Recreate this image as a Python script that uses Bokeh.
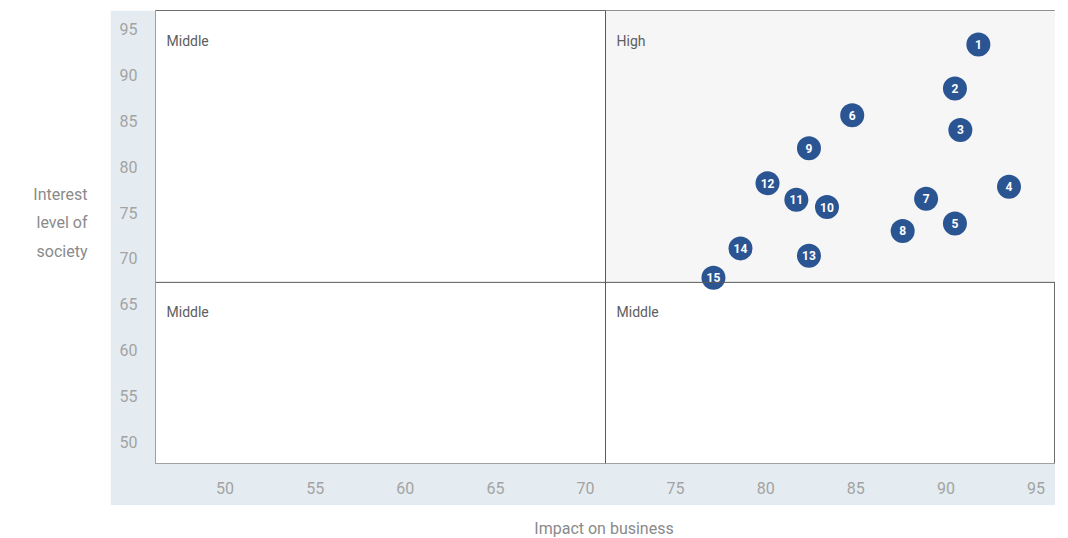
from bokeh.plotting import figure
from bokeh.layouts import row, column
from bokeh.models import Range1d, BoxAnnotation, Span, Label, ColumnDataSource, FixedTicker, Spacer
from bokeh.embed import file_html
from bokeh.resources import INLINE
from bokeh.core.properties import value

# Issue numbers and their scores
issue_ids = [str(i) for i in range(1, 16)]
impact_on_business = [91.8, 90.5, 90.8, 93.5, 90.5, 84.8, 88.9, 87.6, 82.4, 83.4, 81.7, 80.1, 82.4, 78.6, 77.1]
interest_of_society = [93.3, 88.5, 84.0, 77.8, 73.8, 85.6, 76.5, 73.0, 82.0, 75.6, 76.4, 78.2, 70.3, 71.1, 67.9]

x_ticks = [50, 55, 60, 65, 70, 75, 80, 85, 90, 95]
y_ticks = [50, 55, 60, 65, 70, 75, 80, 85, 90, 95]

# Quadrant split values and quadrant names (top-left, top-right, bottom-left, bottom-right)
x_split = 71.11
y_split = 67.4
quadrant_names = ["Middle", "High", "Middle", "Middle"]

x_title = "Impact on business"
y_title = "Interest\nlevel of\nsociety"

x_lo, x_hi = 46.14, 96.08
y_lo, y_hi = 47.68, 97.0

BLUE = "#2b5592"
BAND = "#e4ecf1"
FONT = "Roboto"
TITLE_COLOR = "#8a8a8a"

# ---- main quadrant chart; its border area forms the light band behind the ticks ----
p = figure(
    width=945, height=495,
    x_range=Range1d(x_lo, x_hi), y_range=Range1d(y_lo, y_hi),
    min_border_left=45, min_border_right=0, min_border_top=0, min_border_bottom=42,
    output_backend="svg", toolbar_location=None,
    background_fill_color="white", border_fill_color=BAND,
    outline_line_color="#6e6e6e", outline_line_width=1,
)
p.grid.visible = False

# Shaded "High" quadrant
p.add_layout(BoxAnnotation(left=x_split, bottom=y_split, fill_color="#f6f6f6",
                           fill_alpha=1, line_color=None, level="underlay"))

# Quadrant dividers
p.add_layout(Span(location=x_split, dimension="height", line_color="#5a5a5a", line_width=1))
p.add_layout(Span(location=y_split, dimension="width", line_color="#5a5a5a", line_width=1))

# Quadrant names
corners = [(x_lo, y_hi), (x_split, y_hi), (x_lo, y_split), (x_split, y_split)]
for name, (cx, cy) in zip(quadrant_names, corners):
    p.add_layout(Label(x=cx, y=cy, x_offset=11, y_offset=-30, text=name,
                       text_font=FONT, text_font_size="14px", text_color="#5e5e5e",
                       text_baseline="middle", text_align="left"))

src = ColumnDataSource(dict(x=impact_on_business, y=interest_of_society, label=issue_ids))
p.scatter("x", "y", source=src, size=24, fill_color=BLUE, line_color=None)
p.text("x", "y", text="label", source=src, text_color="white", text_align="center",
       text_baseline="middle", text_font=value(FONT), text_font_size="12px",
       text_font_style="bold")

for ax in (p.xaxis[0], p.yaxis[0]):
    ax.major_tick_line_color = None
    ax.minor_tick_line_color = None
    ax.axis_line_color = "#a0a0a0"
    ax.major_label_text_color = "#a3a3a3"
    ax.major_label_text_font = FONT
    ax.major_label_text_font_size = "16px"

p.xaxis.ticker = FixedTicker(ticks=x_ticks)
p.yaxis.ticker = FixedTicker(ticks=y_ticks)
p.xaxis.major_label_standoff = 12
p.yaxis.major_label_standoff = 12

# ---- axis titles, set in plain white panels around the chart ----
def text_panel(w, h, x0, y0):
    f = figure(width=w, height=h, x_range=Range1d(x0, x0 + w), y_range=Range1d(y0 + h, y0),
               min_border=0, output_backend="svg", toolbar_location=None,
               outline_line_color=None, background_fill_color="white",
               border_fill_color="white")
    f.axis.visible = False
    f.grid.visible = False
    return f

left_panel = text_panel(110, 505, 0, 0)
left_panel.text(x=[87], y=[222], text=[y_title], text_align="right", text_baseline="middle",
                text_font=value(FONT), text_font_size="16px", text_color=TITLE_COLOR,
                text_line_height=1.5)

bottom_panel = text_panel(1068, 33, 0, 505)
bottom_panel.add_layout(Label(x=603.5, y=528, text=x_title, text_align="center",
                              text_baseline="middle", text_font=FONT, text_font_size="16px",
                              text_color=TITLE_COLOR))

layout = column(
    row(left_panel,
        column(Spacer(width=945, height=10), p, spacing=0),
        Spacer(width=13, height=505),
        spacing=0),
    bottom_panel,
    spacing=0,
)

open("out.html", "w").write(file_html(layout, INLINE))
